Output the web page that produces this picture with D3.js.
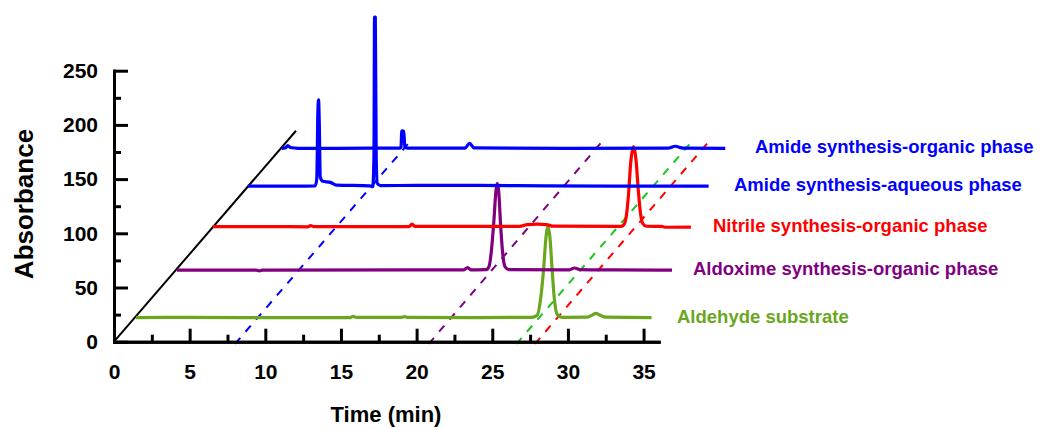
<!DOCTYPE html>
<html>
<head>
<meta charset="utf-8">
<script src="https://cdn.jsdelivr.net/npm/d3@7"></script>
<style>
    body { margin: 0; background: #fff; }
    svg { display: block; font-family: "Liberation Sans", Arial, sans-serif; font-weight: bold; }
    .axis path, .axis line { stroke: #000; stroke-width: 3; }
    .axis path { stroke-linecap: square; }
    .axis text { font-size: 21px; font-weight: bold; fill: #000; font-family: "Liberation Sans", Arial, sans-serif; }
    .trace { fill: none; stroke-width: 3.2; stroke-linejoin: round; }
    .guide { fill: none; stroke-width: 2; stroke-dasharray: 8 8; }
</style>
</head>
<body>
<svg id="chart" width="1040" height="430"></svg>
<script>
// time (min), absorbance -- in axis units
var aldehyde = [
    [1.45, 22.3], [5, 22.4], [10, 22.2], [15.6, 22.3], [15.8, 23.3], [16.0, 22.4], [19.0, 22.5],
    [19.2, 23.1], [19.4, 22.4], [24, 22.3], [27.6, 22.4], [27.95, 24], [28.2, 40], [28.4, 68],
    [28.55, 96], [28.67, 106], [28.8, 98], [28.95, 68], [29.1, 40], [29.3, 25], [29.6, 22.5],
    [31.3, 22.6], [31.6, 24.5], [31.86, 26.2], [32.1, 24.6], [32.5, 22.6], [35.53, 22.3]
];
var aldoxime = [
    [4.16, 66.1], [9.4, 66], [9.6, 65.3], [9.8, 66], [20, 66.2], [23.1, 66.2], [23.37, 68.3],
    [23.6, 66.3], [24.6, 66.4], [24.8, 70], [24.95, 85], [25.1, 110], [25.25, 140], [25.33, 146],
    [25.43, 138], [25.55, 108], [25.7, 80], [25.85, 69], [26.1, 66.5], [30.1, 66.3], [30.43, 68],
    [30.8, 66.5], [33, 66.2], [36.88, 66]
];
var nitrile = [
    [6.53, 106.1], [10, 106.2], [12.8, 106], [13, 107], [13.2, 106.2], [19.5, 106.2], [19.7, 108.4],
    [19.9, 106.3], [26.8, 106.4], [27.3, 108], [28, 108.5], [28.6, 108], [29, 106.6], [33.5, 106.3],
    [33.7, 108], [33.85, 115], [34.0, 135], [34.15, 165], [34.34, 180], [34.5, 168], [34.65, 140],
    [34.8, 118], [34.95, 109], [35.2, 106.5], [36.2, 106.3], [36.4, 105.6], [38.13, 105.7]
];
var amideAqueous = [
    [8.84, 143.6], [12, 143.6], [13.3, 143.8], [13.4, 150], [13.48, 215], [13.52, 223], [13.57, 200],
    [13.63, 152], [13.8, 148], [14.3, 147], [14.7, 144.5], [16.9, 143.8], [17.1, 143], [17.18, 170],
    [17.22, 299.5], [17.27, 299.5], [17.33, 170], [17.4, 146], [17.6, 144], [20, 144.2], [24, 144.2],
    [28.5, 143.8], [33, 143.6], [39.3, 143.6]
];
var amideOrganic = [
    [11.07, 178.4], [11.35, 179], [11.49, 181], [11.65, 179.2], [12, 178.6], [12.3, 178.4], [17, 178.5],
    [18.9, 178.6], [18.97, 179.5], [19.02, 194.6], [19.15, 194.2], [19.22, 180], [19.4, 178.6],
    [23.2, 178.6], [23.5, 183], [23.8, 178.8], [30, 178.4], [36.6, 178.5], [37.1, 180.3],
    [37.6, 178.6], [40.4, 178.4]
];

var seriesNames = [
    'Aldehyde substrate',
    'Aldoxime synthesis-organic phase',
    'Nitrile synthesis-organic phase',
    'Amide synthesis-aqueous phase',
    'Amide synthesis-organic phase'
];
var seriesData = [aldehyde, aldoxime, nitrile, amideAqueous, amideOrganic];

// depth axis and dashed peak guides, start and end in axis units
var depthAxis = [[0, 0], [12.03, 194.6]];
var guides = [
    [[8.0, -2], [19.56, 184.5]],
    [[20.8, -2], [32.34, 186]],
    [[26.6, -2], [38.27, 186]],
    [[27.82, -2], [39.5, 187.6]]
];

var xTicks = d3.range(0, 36, 5);
var xMinorTicks = d3.range(2.5, 36, 5);
var yTicks = d3.range(0, 251, 50);
var yMinorTicks = d3.range(25, 251, 50);

var colors = ['#6aa61e', '#800080', '#ff0000', '#0000ff', '#0000ff'];
var guideColors = ['#0000ff', '#800080', '#1fc41f', '#ff0000'];
var labelX = [677, 693, 713, 734, 755];

var svg = d3.select('#chart');

var x = d3.scaleLinear().domain([0, 36]).range([114, 658.7]);
var y = d3.scaleLinear().domain([0, 250]).range([341.7, 70.7]);

var line = d3.line()
    .x(d => x(d[0]))
    .y(d => y(d[1]));

// guides go under the traces
svg.append('g').selectAll('path')
    .data(guides)
    .enter().append('path')
    .attr('class', 'guide')
    .attr('stroke', (d, i) => guideColors[i])
    .attr('d', line);

svg.append('path')
    .datum(depthAxis)
    .attr('fill', 'none')
    .attr('stroke', '#000')
    .attr('stroke-width', 2)
    .attr('d', line);

var traceLine = d3.line()
    .curve(d3.curveMonotoneX)
    .x(d => x(d[0]))
    .y(d => y(d[1]));

svg.append('g').selectAll('path')
    .data(seriesData)
    .enter().append('path')
    .attr('class', 'trace')
    .attr('stroke', (d, i) => colors[i])
    .attr('d', traceLine);

// axes, ticks point into the plot
var gY = svg.append('g').attr('class', 'axis').attr('transform', 'translate(' + x(0) + ',0)');
gY.call(d3.axisLeft(y).tickValues(yMinorTicks).tickSize(-7).tickSizeOuter(0).tickFormat(''));
var gY2 = svg.append('g').attr('class', 'axis').attr('transform', 'translate(' + x(0) + ',0)');
gY2.call(d3.axisLeft(y).tickValues(yTicks).tickSize(-14).tickSizeOuter(0).tickPadding(16));

var gX = svg.append('g').attr('class', 'axis').attr('transform', 'translate(0,' + y(0) + ')');
gX.call(d3.axisBottom(x).tickValues(xMinorTicks).tickSize(-7).tickSizeOuter(0).tickFormat(''));
var gX2 = svg.append('g').attr('class', 'axis').attr('transform', 'translate(0,' + y(0) + ')');
gX2.call(d3.axisBottom(x).tickValues(xTicks).tickSize(-13).tickSizeOuter(0).tickPadding(22));

svg.append('text')
    .attr('x', 386)
    .attr('y', 422)
    .attr('text-anchor', 'middle')
    .style('font-size', '22px')
    .text('Time (min)');

svg.append('text')
    .attr('transform', 'translate(33,204) rotate(-90)')
    .attr('text-anchor', 'middle')
    .style('font-size', '26px')
    .text('Absorbance');

// series labels sit just under each trace's baseline height
svg.append('g').selectAll('text')
    .data(seriesData)
    .enter().append('text')
    .attr('x', (d, i) => labelX[i])
    .attr('y', d => y(d[0][1]) + 5)
    .attr('fill', (d, i) => colors[i])
    .style('font-size', '18.5px')
    .text((d, i) => seriesNames[i]);
</script>
</body>
</html>
